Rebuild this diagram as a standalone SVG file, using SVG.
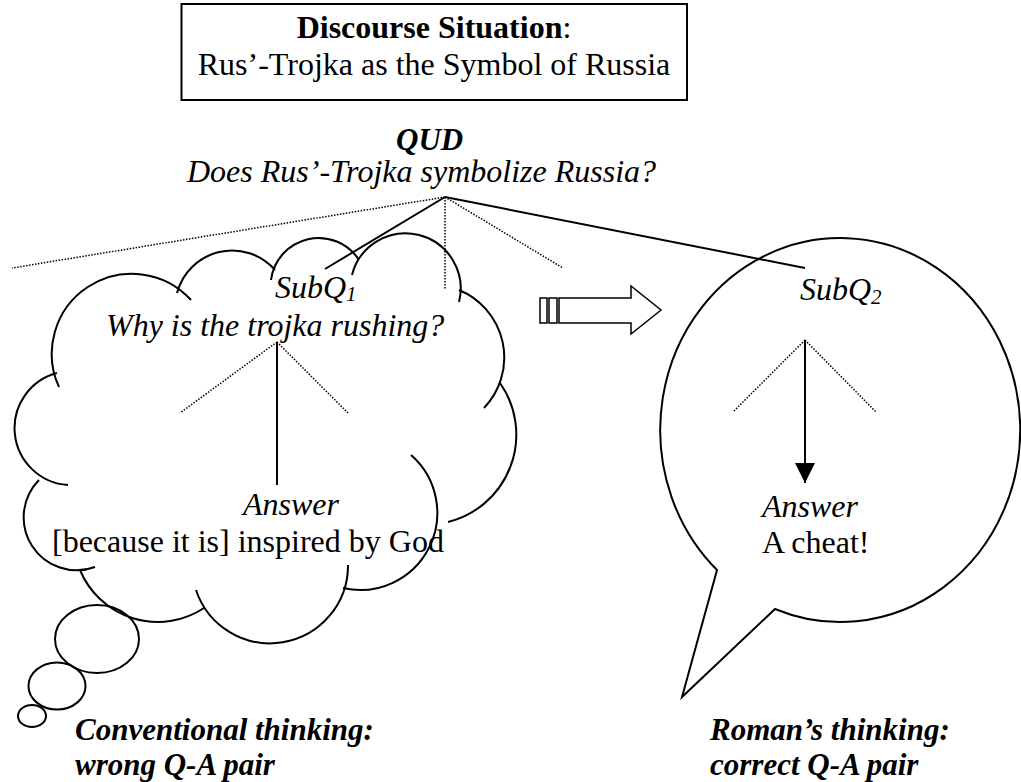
<svg xmlns="http://www.w3.org/2000/svg" width="1021" height="782" viewBox="0 0 1021 782">
<style>
text{font-family:"Liberation Serif","Times New Roman",Times,serif;font-size:32px;fill:#000}
.it{font-style:italic}
.bi{font-style:italic;font-weight:bold}
.b{font-weight:bold}
.ln{stroke:#000;stroke-width:2;fill:none}
.dot{stroke:#000;stroke-width:1.5;stroke-dasharray:1.5 1.5;fill:none}
.sh{stroke:#000;stroke-width:2;fill:none}
</style>
<defs>
<marker id="ah" markerUnits="userSpaceOnUse" markerWidth="20" markerHeight="20" refX="20" refY="10" orient="auto">
<path d="M0,0 L20,10 L0,20 z" fill="#000"/>
</marker>
</defs>
<rect width="1021" height="782" fill="#fff"/>

<g id="title">
<rect x="181.5" y="4" width="505.5" height="96" fill="#fff" stroke="#000" stroke-width="2"/>
<text x="434" y="38" text-anchor="middle"><tspan class="b">Discourse Situation</tspan>:</text>
<text x="434" y="75" text-anchor="middle">Rus’-Trojka as the Symbol of Russia</text>
</g>

<g id="qud">
<text x="396" y="150" class="bi" style="font-size:31px">QUD</text>
<text x="187" y="182" class="it">Does Rus’-Trojka symbolize Russia?</text>
</g>

<g id="subq1">
<path class="sh" d="M59,387 A80,80 0 0 1 191,300 M177,293 A57,57 0 0 1 275,270 M271,280 A48,48 0 0 1 359,260 M352,275 A55,55 0 0 1 459,302 M459,290 A73,73 0 0 1 484,408 M500,383 A90,90 0 0 1 448,522 M411,455 A77,77 0 0 1 343,588 M348,565 A78,78 0 0 1 196,590 M204,608 A84,84 0 0 1 80,570 M95,567 A53,53 0 0 1 39,480 M68,485 A57,57 0 0 1 57,373"/>
<ellipse class="sh" cx="97" cy="639" rx="42" ry="34"/>
<ellipse class="sh" cx="57" cy="686" rx="28.5" ry="23.5"/>
<ellipse class="sh" cx="32" cy="716" rx="14" ry="11"/>
<text x="275" y="298" class="it">SubQ<tspan style="font-size:21px" dy="3">1</tspan></text>
<text x="106" y="336" class="it">Why is the trojka rushing?</text>
<text x="243" y="515" class="it">Answer</text>
<text x="52" y="552">[because it is] inspired by God</text>
</g>

<g id="subq2">
<path class="sh" d="M775,609 A180,192 0 1 0 717,570 L682,697 Z"/>
<text x="800" y="300" class="it">SubQ<tspan style="font-size:21px" dy="4">2</tspan></text>
<text x="762" y="517" class="it">Answer</text>
<text x="762" y="553">A cheat!</text>
</g>

<g id="shift-arrow">
<rect x="540" y="298" width="7" height="25" fill="#fff" stroke="#000" stroke-width="1.5"/>
<rect x="549" y="298" width="8" height="25" fill="#fff" stroke="#000" stroke-width="1.5"/>
<polygon points="559,298 631,298 631,286 661,310 631,334 631,323 559,323" fill="#fff" stroke="#000" stroke-width="1.5"/>
</g>

<g id="connectors">
<line class="dot" x1="445" y1="197" x2="12" y2="268"/>
<line class="dot" x1="445" y1="197" x2="445" y2="290"/>
<line class="dot" x1="445" y1="197" x2="563" y2="268"/>
<line class="ln" x1="445" y1="197" x2="325" y2="269"/>
<line class="ln" x1="445" y1="197" x2="805" y2="268"/>
<line class="dot" x1="277" y1="342" x2="180" y2="413"/>
<line class="dot" x1="277" y1="342" x2="348" y2="413"/>
<line class="ln" x1="277" y1="342" x2="277" y2="485"/>
<line class="dot" x1="805" y1="340" x2="733" y2="412"/>
<line class="dot" x1="805" y1="340" x2="876" y2="412"/>
<line class="ln" x1="805" y1="340" x2="805" y2="483" marker-end="url(#ah)"/>
</g>

<g id="captions">
<text x="75" y="740" class="bi" style="font-size:31px">Conventional thinking:</text>
<text x="75" y="775" class="bi" style="font-size:31px">wrong Q-A pair</text>
<text x="710" y="740" class="bi" style="font-size:31px">Roman’s thinking:</text>
<text x="710" y="775" class="bi" style="font-size:31px">correct Q-A pair</text>
</g>
</svg>
